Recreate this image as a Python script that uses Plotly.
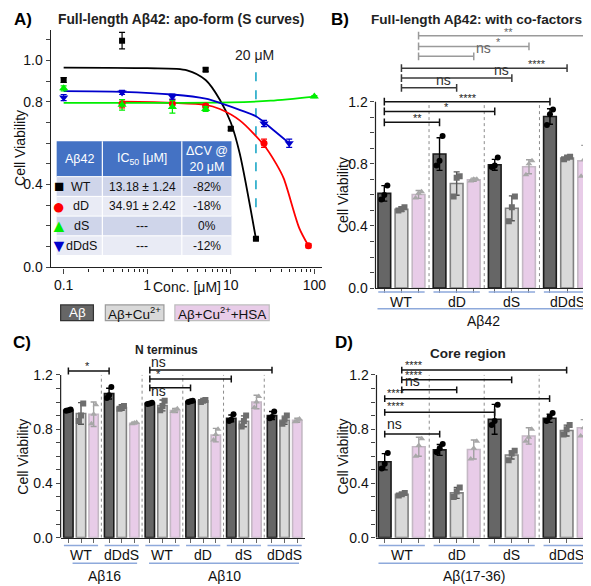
import plotly.graph_objects as go

W, H = 591, 586
FONT = "Arial, Liberation Sans, sans-serif"

# ---------------- Panel A data (apo-form dose response) ----------------
conc_wt = [0.1, 0.5, 5, 10, 20]
cv_wt = [0.905, 1.095, 0.955, 0.67, 0.138]
err_wt = [0.012, 0.04, 0.008, 0.008, 0.006]
conc_dd = [0.5, 2, 5, 25, 85]
cv_dd = [0.79, 0.79, 0.78, 0.60, 0.105]
err_dd = [0.02, 0.02, 0.01, 0.02, 0.01]
conc_ds = [0.1, 0.5, 2, 5, 100]
cv_ds = [0.865, 0.785, 0.775, 0.765, 0.825]
err_ds = [0.012, 0.025, 0.03, 0.012, 0.005]
conc_ddds = [0.1, 0.5, 2, 25, 50]
cv_ddds = [0.82, 0.845, 0.825, 0.695, 0.60]
err_ddds = [0.015, 0.01, 0.012, 0.015, 0.02]

# fitted S-curves
fit_wt_x = [0.1, 1, 3, 5, 7.4, 10, 12.8, 20]
fit_wt_y = [0.965, 0.962, 0.952, 0.905, 0.81, 0.70, 0.55, 0.138]
fit_dd_x = [0.5, 5, 7.4, 12.8, 25, 35, 43, 66, 85]
fit_dd_y = [0.80, 0.785, 0.765, 0.71, 0.59, 0.50, 0.43, 0.19, 0.105]
fit_ds_x = [0.1, 10, 30, 100]
fit_ds_y = [0.795, 0.797, 0.805, 0.825]
fit_ddds_x = [0.1, 0.5, 2, 5, 8, 13, 20, 32, 50]
fit_ddds_y = [0.851, 0.848, 0.835, 0.815, 0.79, 0.76, 0.73, 0.665, 0.60]

table_names = ["WT", "dD", "dS", "dDdS"]
table_ic50 = ["13.18 ± 1.24", "34.91 ± 2.42", "---", "---"]
table_dcv = ["-82%", "-18%", "0%", "-12%"]

# ---------------- Panel B data (full-length Ab42 with co-factors) ----------------
groups_b = ["WT", "dD", "dS", "dDdS"]
b_ab = [0.61, 0.863, 0.794, 1.105]
b_ab_err = [0.05, 0.105, 0.035, 0.05]
b_cu = [0.508, 0.673, 0.514, 0.838]
b_cu_err = [0.015, 0.075, 0.08, 0.01]
b_hsa = [0.603, 0.698, 0.781, 0.819]
b_hsa_err = [0.025, 0.01, 0.045, 0.10]
b_ab_pts = [[0.57, 0.60, 0.66], [0.79, 0.82, 0.98], [0.78, 0.79, 0.84], [1.05, 1.12, 1.15]]
b_cu_pts = [[0.50, 0.51, 0.52], [0.59, 0.71, 0.72], [0.43, 0.52, 0.59], [0.83, 0.84, 0.845]]
b_hsa_pts = [[0.58, 0.61, 0.62], [0.69, 0.70, 0.70], [0.73, 0.80, 0.82], [0.72, 0.83, 0.91]]

# ---------------- Panel C data (N terminus) ----------------
groups_c = ["WT", "dDdS", "WT", "dD", "dS", "dDdS"]
c_ab = [0.94, 1.062, 0.99, 1.004, 0.88, 0.90]
c_ab_err = [0.005, 0.04, 0.005, 0.005, 0.025, 0.03]
c_cu = [0.916, 0.96, 0.975, 1.01, 0.858, 0.866]
c_cu_err = [0.08, 0.02, 0.04, 0.005, 0.04, 0.03]
c_hsa = [0.91, 0.844, 0.938, 0.756, 1.0, 0.866]
c_hsa_err = [0.09, 0.005, 0.015, 0.05, 0.05, 0.015]
c_ab_pts = [[0.935, 0.94, 0.945], [1.03, 1.05, 1.11], [0.985, 0.99, 0.995], [1.0, 1.005, 1.01], [0.86, 0.87, 0.91], [0.88, 0.89, 0.93]]
c_cu_pts = [[0.86, 0.90, 0.99], [0.95, 0.96, 0.97], [0.94, 0.97, 1.01], [1.0, 1.01, 1.015], [0.82, 0.86, 0.90], [0.84, 0.87, 0.90]]
c_hsa_pts = [[0.84, 0.91, 0.98], [0.84, 0.845, 0.85], [0.93, 0.94, 0.95], [0.72, 0.76, 0.80], [0.96, 1.0, 1.04], [0.855, 0.865, 0.875]]

# ---------------- Panel D data (core region) ----------------
groups_d = ["WT", "dD", "dS", "dDdS"]
d_ab = [0.56, 0.647, 0.873, 0.88]
d_ab_err = [0.06, 0.04, 0.11, 0.03]
d_cu = [0.32, 0.33, 0.61, 0.79]
d_cu_err = [0.01, 0.04, 0.03, 0.04]
d_hsa = [0.67, 0.65, 0.75, 0.81]
d_hsa_err = [0.07, 0.07, 0.06, 0.06]
d_ab_pts = [[0.51, 0.545, 0.625], [0.63, 0.66, 0.69], [0.83, 0.86, 0.98], [0.86, 0.89, 0.92]]
d_cu_pts = [[0.31, 0.32, 0.33], [0.30, 0.34, 0.37], [0.57, 0.62, 0.64], [0.76, 0.80, 0.83]]
d_hsa_pts = [[0.60, 0.68, 0.73], [0.58, 0.66, 0.71], [0.71, 0.74, 0.80], [0.75, 0.81, 0.87]]

# significance brackets: (start group, end group, height, label)
b_brackets_ab = [(0, 1, 1.067, "**"), (0, 2, 1.137, "*"), (0, 3, 1.200, "****")]
b_brackets_cu = [(0, 1, 1.289, "ns"), (0, 2, 1.352, "ns"), (0, 3, 1.416, "****")]
b_brackets_hsa = [(0, 1, 1.492, "ns"), (0, 2, 1.556, "*"), (0, 3, 1.625, "**")]
c_brackets = [(0, 1, 1.229, "*"), (2, 5, 1.236, "ns"), (2, 4, 1.170, "*"), (2, 3, 1.105, "ns")]
d_brackets_cu = [(0, 3, 1.236, "****"), (0, 2, 1.164, "****"), (0, 1, 1.090, "ns")]
d_brackets_ab = [(0, 3, 1.025, "****"), (0, 2, 0.924, "****"), (0, 1, 0.764, "ns")]

# ---------------- helpers ----------------
def px(x):
    return x / W


def py(y):
    return 1 - y / H


OFF = [-0.31, 0.0, 0.31]
BW = 0.23
C_AB, C_CU, C_HSA = "#666666", "#D9D9D9", "#E8CCE8"
L_AB, L_CU, L_HSA = "#1A1A1A", "#808080", "#C4B8C4"
P_AB, P_CU, P_HSA = "#000000", "#6E6E6E", "#A8A8A8"
JIT = [-0.055, 0.0, 0.055]

fig = go.Figure()
shapes = []
annos = []


def txt(x, y, t, size=13, color="#111", bold=False, xanchor="center", yanchor="middle",
        xref="paper", yref="paper", angle=0):
    if bold:
        t = "<b>" + t + "</b>"
    annos.append(dict(x=x, y=y, text=t, xref=xref, yref=yref, showarrow=False,
                      xanchor=xanchor, yanchor=yanchor, textangle=angle,
                      font=dict(family=FONT, size=size, color=color)))


def sig(x, y, lab, color, xref, yref, xanchor="center"):
    # 'ns' sits on the line, stars float a few px above it
    if lab == "ns":
        txt(x, y - 0.012, lab, 14, color, xref=xref, yref=yref, yanchor="bottom", xanchor=xanchor)
    else:
        txt(x, y - 0.025, lab, 11, color, xref=xref, yref=yref, yanchor="bottom", xanchor=xanchor)


# ================= Panel A =================
fig.add_trace(go.Scatter(x=[20, 20], y=[0.29, 0.957], mode="lines",
                         line=dict(color="#1CA7C7", width=1.6, dash="dash"),
                         xaxis="x", yaxis="y", hoverinfo="skip"))
for fx, fy, col in [(fit_wt_x, fit_wt_y, "#000000"), (fit_dd_x, fit_dd_y, "#FF0000"),
                    (fit_ds_x, fit_ds_y, "#00EE00"), (fit_ddds_x, fit_ddds_y, "#0000CC")]:
    fig.add_trace(go.Scatter(x=fx, y=fy, mode="lines", line=dict(color=col, width=1.8, shape="spline", smoothing=0.8),
                             xaxis="x", yaxis="y"))
for cx, cy, ce, col, sym, sz in [
    (conc_wt, cv_wt, err_wt, "#000000", "square", 6),
    (conc_dd, cv_dd, err_dd, "#FF0000", "circle", 7),
    (conc_ds, cv_ds, err_ds, "#00EE00", "triangle-up", 8),
    (conc_ddds, cv_ddds, err_ddds, "#0000CC", "triangle-down", 8),
]:
    fig.add_trace(go.Scatter(x=cx, y=cy, mode="markers",
                             marker=dict(color=col, symbol=sym, size=sz),
                             error_y=dict(type="data", array=ce, color=col, thickness=1.2, width=3),
                             xaxis="x", yaxis="y"))

# table (header + rows)
tx = [49, 95, 175, 225]
ty = [135, 171, 191, 211, 231, 251]
shapes.append(dict(type="rect", xref="paper", yref="paper", x0=px(tx[0]), x1=px(tx[3]),
                   y0=py(ty[1]), y1=py(ty[0]), fillcolor="#4472C4", line=dict(width=0), layer="above"))
row_cols = ["#CFD5EA", "#E9EBF5", "#CFD5EA", "#E9EBF5"]
for i in range(4):
    shapes.append(dict(type="rect", xref="paper", yref="paper", x0=px(tx[0]), x1=px(tx[3]),
                       y0=py(ty[i + 2]), y1=py(ty[i + 1]), fillcolor=row_cols[i],
                       line=dict(width=0), layer="above"))
for i in range(5):
    shapes.append(dict(type="line", xref="paper", yref="paper", x0=px(tx[0]), x1=px(tx[3]),
                       y0=py(ty[i + 1]), y1=py(ty[i + 1]), line=dict(color="white", width=1), layer="above"))
for xx in tx[1:3]:
    shapes.append(dict(type="line", xref="paper", yref="paper", x0=px(xx), x1=px(xx),
                       y0=py(ty[5]), y1=py(ty[0]), line=dict(color="white", width=1.2), layer="above"))
txt(px(72), py(153), "Aβ42", 12.5, "white")
txt(px(135), py(153), "IC<sub>50</sub> [μM]", 12.5, "white")
txt(px(200), py(153), "ΔCV @<br>20 μM", 12.5, "white")
sym_txt = ["■", "●", "▲", "▼"]
sym_col = ["#000000", "#FF0000", "#00EE00", "#0000CC"]
sym_size = [17, 22, 18, 18]
for i in range(4):
    yc = (ty[i + 1] + ty[i + 2]) / 2
    txt(px(74), py(yc), table_names[i], 12.5, "#111")
    txt(px(135), py(yc), table_ic50[i], 12, "#111")
    txt(px(200), py(yc), table_dcv[i], 12, "#111")
    txt(px(51), py(yc), sym_txt[i], sym_size[i], sym_col[i])

txt(px(248), py(48), "20 μM", 14, "#222")
txt(px(4), py(12), "A)", 17, "#000", bold=True, xanchor="left")
txt(px(174), py(12), "Full-length Aβ42: apo-form (S curves)", 13.8, "#222", bold=True)
txt(px(12), py(142), "Cell Viability", 14, "#111", angle=-90)
txt(px(180), py(283), "Conc. [μM]", 14, "#111")

# legend boxes
for x0, x1, fill, line, label, tcol in [
    (53, 86, "#666666", "#333333", "Aβ", "white"),
    (98, 157, "#D9D9D9", "#9A9A9A", "Aβ+Cu<sup>2+</sup>", "#111"),
    (168, 263, "#E8CCE8", "#BDBDBD", "Aβ+Cu<sup>2+</sup>+HSA", "#111"),
]:
    shapes.append(dict(type="rect", xref="paper", yref="paper", x0=px(x0), x1=px(x1),
                       y0=py(317), y1=py(301), fillcolor=fill, line=dict(color=line, width=1.2)))
    txt(px((x0 + x1) / 2), py(309), label, 13.5, tcol)


# ================= Bar panels =================
def bar_panel(xa, ya, n, ab, abe, cu, cue, hsa, hse, pab, pcu, phs):
    series = [(ab, abe, pab, C_AB, L_AB, P_AB, "circle", 6, "#000"),
              (cu, cue, pcu, C_CU, L_CU, P_CU, "square", 6, "#555"),
              (hsa, hse, phs, C_HSA, L_HSA, P_HSA, "triangle-up", 6, "#A0A0A0")]
    for k, (v, e, pts, fc, lc, pc, sym, ms, ec) in enumerate(series):
        xs = [g + OFF[k] for g in range(n)]
        fig.add_trace(go.Bar(x=xs, y=v, width=BW, xaxis=xa, yaxis=ya,
                             marker=dict(color=fc, line=dict(color=lc, width=1.6)),
                             error_y=dict(type="data", array=e, color=ec, thickness=1.4, width=3)))
        px_, py_ = [], []
        for g in range(n):
            for j, val in enumerate(pts[g]):
                px_.append(g + OFF[k] + JIT[j])
                py_.append(val)
        fig.add_trace(go.Scatter(x=px_, y=py_, mode="markers", xaxis=xa, yaxis=ya,
                                 marker=dict(color=pc, symbol=sym, size=ms)))
    for g in range(n - 1):
        shapes.append(dict(type="line", xref=xa, yref=ya, x0=g + 0.5, x1=g + 0.5, y0=0, y1=1.2,
                           line=dict(color="#8C8C8C", width=1, dash="dot"), layer="below"))
    shapes.append(dict(type="line", xref=xa + " domain", yref=ya, x0=0, x1=0, y0=0, y1=1.2,
                       line=dict(color="#222", width=1.2)))


def bracket(xa, ya, x0, x1, y, color, h=0.025):
    shapes.append(dict(type="line", xref=xa, yref=ya, x0=x0, x1=x1, y0=y, y1=y, line=dict(color=color, width=1.5)))
    for xx in (x0, x1):
        shapes.append(dict(type="line", xref=xa, yref=ya, x0=xx, x1=xx, y0=y - h, y1=y + h,
                           line=dict(color=color, width=1.5)))


def group_labels(xa, n, names, ylab, yline, size=14):
    for g in range(n):
        shapes.append(dict(type="line", xref=xa, yref="paper", x0=g - 0.42, x1=g + 0.42,
                           y0=py(yline), y1=py(yline), line=dict(color="#8EA9DB", width=1.5)))
        txt(g, py(ylab), names[g], size, "#111", xref=xa)


# ---------- Panel B ----------
bar_panel("x2", "y2", 4, b_ab, b_ab_err, b_cu, b_cu_err, b_hsa, b_hsa_err, b_ab_pts, b_cu_pts, b_hsa_pts)
for (g0, g1, yy, lab), lx in zip(b_brackets_ab, [0.29, 0.81, 1.21]):
    bracket("x2", "y2", g0 + OFF[0], g1 + OFF[0], yy, "#111")
    sig(lx, yy, lab, "#222", "x2", "y2")
for (g0, g1, yy, lab), lx in zip(b_brackets_cu, [0.76, 1.82, 2.46]):
    bracket("x2", "y2", g0 + OFF[1], g1 + OFF[1], yy, "#3A3A3A")
    sig(lx, yy, lab, "#333", "x2", "y2")
for (g0, g1, yy, lab), lx in zip(b_brackets_hsa, [1.48, 1.75, 1.94]):
    bracket("x2", "y2", g0 + OFF[2], g1 + OFF[2], yy, "#9A9A9A")
    sig(lx, yy, lab, "#666", "x2", "y2")
group_labels("x2", 4, groups_b, 298, 288)
shapes.append(dict(type="line", xref="paper", yref="paper", x0=px(372), x1=px(586), y0=py(305), y1=py(305),
                   line=dict(color="#8EA9DB", width=1.5)))
txt(px(479), py(317), "Aβ42", 14, "#111")
txt(px(323), py(12), "B)", 17, "#000", bold=True, xanchor="left")
txt(px(472), py(12), "Full-length Aβ42: with co-factors", 13.6, "#222", bold=True)
txt(px(338), py(190), "Cell Viability", 14, "#111", angle=-90)

# ---------- Panel C ----------
bar_panel("x3", "y3", 6, c_ab, c_ab_err, c_cu, c_cu_err, c_hsa, c_hsa_err, c_ab_pts, c_cu_pts, c_hsa_pts)
for (g0, g1, yy, lab), (lx, ly) in zip(c_brackets, [(0.16, 1.229), (1.91, 1.236), (1.91, 1.170), (1.91, 1.02)]):
    bracket("x3", "y3", g0 + OFF[0], g1 + OFF[0], yy, "#111")
    sig(lx, ly, lab, "#222", "x3", "y3")
group_labels("x3", 6, groups_c, 555, 545)
for x0, x1, lab in [(65, 130, "Aβ16"), (142, 293, "Aβ10")]:
    shapes.append(dict(type="line", xref="paper", yref="paper", x0=px(x0), x1=px(x1), y0=py(563), y1=py(563),
                       line=dict(color="#8EA9DB", width=1.5)))
    txt(px((x0 + x1) / 2), py(576), lab, 14, "#111")
txt(px(3), py(339), "C)", 17, "#000", bold=True, xanchor="left")
txt(px(160), py(347), "N terminus", 12, "#222", bold=True)
txt(px(15), py(455), "Cell Viability", 14, "#111", angle=-90)

# ---------- Panel D ----------
bar_panel("x4", "y4", 4, d_ab, d_ab_err, d_cu, d_cu_err, d_hsa, d_hsa_err, d_ab_pts, d_cu_pts, d_hsa_pts)
for g0, g1, yy, lab in d_brackets_cu:
    bracket("x4", "y4", g0 + OFF[1], g1 + OFF[1], yy, "#111")
    sig(0.03, yy, lab, "#222", "x4", "y4", xanchor="left")
for g0, g1, yy, lab in d_brackets_ab:
    bracket("x4", "y4", g0 + OFF[0], g1 + OFF[0], yy, "#111")
    sig(-0.3, yy + 0.01, lab, "#222", "x4", "y4", xanchor="left")
group_labels("x4", 4, groups_d, 555, 545)
shapes.append(dict(type="line", xref="paper", yref="paper", x0=px(373), x1=px(584), y0=py(563), y1=py(563),
                   line=dict(color="#8EA9DB", width=1.5)))
txt(px(470), py(576), "Aβ(17-36)", 14, "#111")
txt(px(327), py(339), "D)", 17, "#000", bold=True, xanchor="left")
txt(px(463), py(350), "Core region", 13.5, "#222", bold=True)
txt(px(337), py(455), "Cell Viability", 14, "#111", angle=-90)

# ================= axes =================
tick10 = [i / 10 for i in range(13)]
lab10 = ["0.0", "", "", "", "0.4", "", "", "", "0.8", "", "", "", "1.2"]
tickA = [i / 10 for i in range(12)]
labA = ["0.0", "", "", "", "0.4", "", "", "", "0.8", "", "1.0", ""]
minorA = [m * 10 ** e for e in (-1, 0, 1) for m in range(2, 10)]

tfont = dict(family=FONT, size=14, color="#111")
fig.update_layout(
    width=W, height=H, margin=dict(l=0, r=0, t=0, b=0),
    paper_bgcolor="white", plot_bgcolor="white", showlegend=False, barmode="overlay",
    font=dict(family=FONT),
    xaxis=dict(domain=[px(43), px(316)], type="log", range=[-1.155, 2.09], anchor="y",
               showline=True, linecolor="#222", linewidth=1.2, ticks="outside", ticklen=5,
               tickvals=[0.1, 1, 10, 100], ticktext=["0.1", "1", "10", "100"], showgrid=False,
               tickfont=tfont,
               minor=dict(tickvals=minorA, ticks="outside", ticklen=3, tickcolor="#222", showgrid=False)),
    yaxis=dict(domain=[py(263), py(22)], range=[0, 1.148], anchor="x", showline=True, linecolor="#222",
               linewidth=1.2, ticks="outside", ticklen=4, tickvals=tickA, ticktext=labA, showgrid=False,
               zeroline=False, tickfont=tfont),
    xaxis2=dict(domain=[px(370), px(589)], range=[-0.47, 3.47], anchor="y2", showline=True, linecolor="#222",
                linewidth=1.2, ticks="outside", ticklen=4, tickcolor="#666",
                tickvals=[g + o for g in range(4) for o in OFF], showticklabels=False, showgrid=False, zeroline=False),
    yaxis2=dict(domain=[py(284), py(18)], range=[0, (284 - 18) / 157.5], anchor="x2", showline=False,
                ticks="outside", ticklen=4, tickvals=tick10, ticktext=lab10, showgrid=False, zeroline=False,
                tickfont=tfont),
    xaxis3=dict(domain=[px(53), px(299)], range=[-0.5, 5.5], anchor="y3", showline=True, linecolor="#222",
                linewidth=1.2, ticks="outside", ticklen=4, tickcolor="#666",
                tickvals=[g + o for g in range(6) for o in OFF], showticklabels=False, showgrid=False, zeroline=False),
    yaxis3=dict(domain=[py(537), py(355)], range=[0, (537 - 355) / 137.5], anchor="x3", showline=False,
                ticks="outside", ticklen=4, tickvals=tick10, ticktext=lab10, showgrid=False, zeroline=False,
                tickfont=tfont),
    xaxis4=dict(domain=[px(371), px(589)], range=[-0.46, 3.48], anchor="y4", showline=True, linecolor="#222",
                linewidth=1.2, ticks="outside", ticklen=4, tickcolor="#666",
                tickvals=[g + o for g in range(4) for o in OFF], showticklabels=False, showgrid=False, zeroline=False),
    yaxis4=dict(domain=[py(537), py(355)], range=[0, (537 - 355) / 137.5], anchor="x4", showline=False,
                ticks="outside", ticklen=4, tickvals=tick10, ticktext=lab10, showgrid=False, zeroline=False,
                tickfont=tfont),
    shapes=shapes, annotations=annos,
)

fig.write_html("out.html")
